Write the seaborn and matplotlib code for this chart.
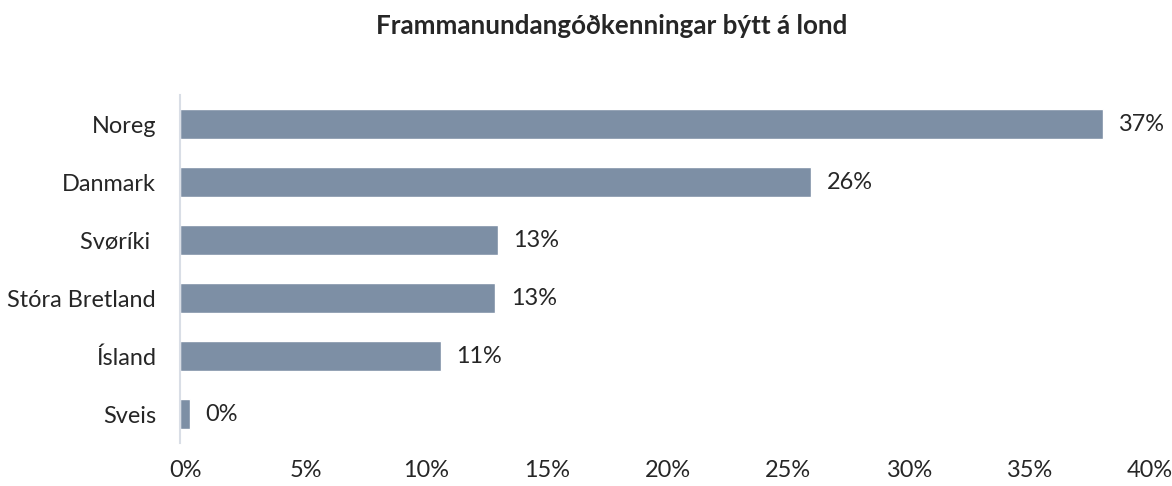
import matplotlib
matplotlib.use("Agg")
import matplotlib.pyplot as plt
import matplotlib.transforms as mtransforms
import seaborn as sns
import pandas as pd

# Data
countries = ["Noreg", "Danmark", "Svøríki ", "Stóra Bretland", "Ísland", "Sveis"]
shares = [38.3, 26.2, 13.2, 13.1, 10.85, 0.45]
value_labels = ["37%", "26%", "13%", "13%", "11%", "0%"]
x_ticks = [0, 5, 10, 15, 20, 25, 30, 35, 40]
x_tick_labels = ["0%", "5%", "10%", "15%", "20%", "25%", "30%", "35%", "40%"]
title = "Frammanundangóðkenningar býtt á lond"

sns.set_style("white")
plt.rcParams["font.family"] = ["Lato", "DejaVu Sans"]

text_color = "#262626"
bar_color = "#7d8fa5"

df = pd.DataFrame({"country": countries, "share": shares})

fig = plt.figure(figsize=(11.72, 4.86), dpi=100)
ax = fig.add_axes([179.5 / 1172, 43 / 486, (1144 - 179.5) / 1172, 348 / 486])

sns.barplot(data=df, x="share", y="country", orient="h", color=bar_color,
            width=0.52, saturation=1, ax=ax)

ax.set_xlim(0, 40)
ax.set_xticks(x_ticks)
ax.set_xticklabels(x_tick_labels)
ax.set_xlabel("")
ax.set_ylabel("")

for s in ["top", "right", "bottom"]:
    ax.spines[s].set_visible(False)
ax.spines["left"].set_color("#d9dee6")
ax.spines["left"].set_linewidth(1.5)

fs = 16.9
ax.tick_params(axis="y", length=0, pad=17, labelsize=fs, labelcolor=text_color)
ax.tick_params(axis="x", length=0, pad=12, labelsize=fs, labelcolor=text_color)

offset = mtransforms.ScaledTranslation(6 / 100, 0, fig.dpi_scale_trans)
for lbl in ax.get_xticklabels():
    lbl.set_transform(lbl.get_transform() + offset)

ax.bar_label(ax.containers[0], labels=value_labels, padding=11,
             fontsize=fs, color=text_color)

fig.text(612 / 1172, 1 - 26 / 486, title, ha="center", va="center",
         fontsize=18.7, fontweight="bold", color=text_color)

fig.savefig("out.png", dpi=100)
